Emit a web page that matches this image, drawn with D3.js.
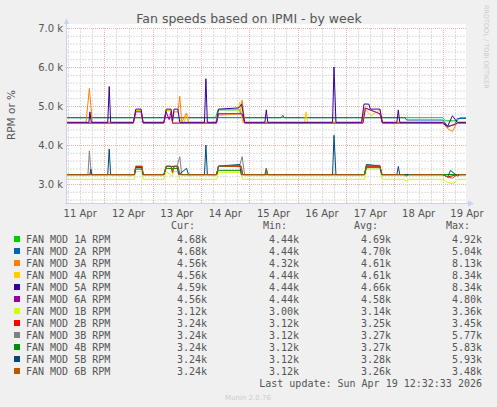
<!DOCTYPE html>
<html><head><meta charset="utf-8">
<script src="https://cdn.jsdelivr.net/npm/d3@7"></script>
<style>body{margin:0;background:#f0f0f0}svg{display:block}</style>
</head><body><svg id="c" width="497" height="407"></svg>
<script>
// time in days since 11 Apr 00:00, values in RPM
const dayLabels = ["11 Apr","12 Apr","13 Apr","14 Apr","15 Apr","16 Apr","17 Apr","18 Apr","19 Apr"];
const yTicks = [3000, 4000, 5000, 6000, 7000];

const fan1A = [[0.23,4700],[3.3,4700],[3.35,4900],[3.8,4900],[3.85,4700],[8.0,4700],[8.05,4620],[8.3,4620],[8.35,4700],[8.48,4700]];
const fan2A = [[0.23,4700],[4.66,4700],[4.69,4760],[4.72,4700],[7.22,4700],[7.25,4640],[8.0,4640],[8.1,4480],[8.25,4520],[8.3,4680],[8.48,4680]];
const fan3A = [[0.23,4580],[0.62,4580],[0.69,5450],[0.75,4580],[1.6,4580],[1.65,4880],[1.76,4880],[1.8,4580],[2.23,4580],[2.28,4880],[2.38,4880],[2.41,4600],[2.44,4850],[2.52,4850],[2.56,5250],[2.6,4580],[2.7,4820],[2.74,4580],[3.3,4580],[3.36,4800],[3.8,4800],[3.85,5150],[3.9,4580],[6.33,4580],[6.38,4950],[6.7,4800],[6.75,4580],[8.0,4580],[8.1,4420],[8.2,4350],[8.3,4580],[8.48,4580]];
const fan4A = [[0.23,4580],[1.6,4580],[1.65,4880],[1.76,4880],[1.8,4580],[2.23,4580],[2.28,4880],[2.38,4880],[2.41,4560],[2.5,4580],[2.56,4650],[2.64,4560],[2.7,4760],[2.75,4580],[3.3,4580],[3.36,4750],[3.75,4800],[3.8,5100],[3.86,4580],[5.14,4580],[5.17,4850],[5.2,4580],[6.35,4580],[6.4,4900],[6.52,4750],[6.7,4900],[6.75,4580],[8.0,4580],[8.1,4450],[8.3,4580],[8.48,4580]];
const fan5A = [[0.23,4580],[0.68,4580],[0.7,4850],[0.73,4580],[1.07,4580],[1.1,5500],[1.13,4580],[1.6,4580],[1.65,4920],[1.76,4920],[1.8,4580],[2.23,4580],[2.28,4920],[2.38,4920],[2.41,4620],[2.44,4920],[2.52,4920],[2.56,4580],[3.07,4580],[3.1,5700],[3.13,4580],[3.32,4580],[3.36,4920],[3.78,4950],[3.84,5050],[3.9,4580],[4.32,4580],[4.35,4900],[4.38,4580],[5.72,4580],[5.75,6000],[5.79,4580],[6.32,4580],[6.37,5050],[6.47,5050],[6.5,4920],[6.7,4920],[6.75,4580],[7.05,4580],[7.08,4900],[7.11,4580],[8.0,4580],[8.1,4480],[8.2,4750],[8.3,4580],[8.48,4580]];
const fan6A = [[0.23,4560],[1.6,4560],[1.65,4850],[1.76,4850],[1.8,4560],[2.23,4560],[2.28,4850],[2.34,4650],[2.38,4850],[2.41,4560],[3.32,4560],[3.36,4800],[3.85,4800],[3.9,4560],[6.35,4560],[6.4,4950],[6.7,4800],[6.75,4560],[8.0,4560],[8.1,4460],[8.3,4560],[8.48,4560]];
const fan1B = [[0.23,3120],[1.62,3120],[1.65,3320],[1.78,3320],[1.8,3120],[2.23,3120],[2.28,3320],[2.4,3200],[2.44,3320],[2.52,3320],[2.56,3120],[3.32,3120],[3.36,3300],[3.83,3300],[3.86,3120],[6.38,3120],[6.42,3380],[6.7,3380],[6.74,3120],[7.2,3120],[7.24,3080],[7.3,3120],[8.0,3120],[8.1,3040],[8.22,3000],[8.3,3120],[8.48,3120]];
const fan2B = [[0.23,3240],[1.62,3240],[1.65,3450],[1.78,3450],[1.8,3240],[2.23,3240],[2.28,3450],[2.38,3450],[2.41,3300],[2.44,3450],[2.52,3450],[2.56,3240],[3.32,3240],[3.36,3450],[3.83,3450],[3.86,3240],[6.38,3240],[6.42,3450],[6.7,3450],[6.74,3240],[8.0,3240],[8.1,3180],[8.3,3240],[8.48,3240]];
const fan3B = [[0.23,3240],[0.66,3240],[0.69,3850],[0.73,3240],[1.62,3240],[1.65,3420],[1.78,3420],[1.8,3240],[2.23,3240],[2.28,3450],[2.5,3450],[2.56,3700],[2.6,3240],[3.32,3240],[3.36,3450],[3.8,3480],[3.85,3700],[3.9,3240],[6.38,3240],[6.42,3480],[6.7,3480],[6.74,3240],[8.48,3240]];
const fan4B = [[0.23,3240],[1.62,3240],[1.65,3380],[1.78,3380],[1.8,3240],[2.23,3240],[2.28,3400],[2.52,3400],[2.56,3240],[3.32,3240],[3.36,3350],[3.83,3350],[3.86,3240],[6.38,3240],[6.42,3420],[6.7,3420],[6.74,3240],[8.48,3240]];
const fan5B = [[0.23,3240],[0.7,3240],[0.72,3380],[0.74,3240],[1.07,3240],[1.1,3900],[1.13,3240],[1.62,3240],[1.65,3420],[1.78,3420],[1.8,3240],[2.23,3240],[2.28,3450],[2.5,3450],[2.54,3240],[2.7,3400],[2.74,3240],[3.07,3240],[3.1,4000],[3.13,3240],[3.32,3240],[3.36,3460],[3.8,3500],[3.83,3240],[4.32,3240],[4.35,3400],[4.38,3240],[5.72,3240],[5.75,4250],[5.79,3240],[6.38,3240],[6.42,3500],[6.7,3460],[6.74,3240],[7.05,3240],[7.08,3450],[7.11,3240],[8.0,3240],[8.1,3180],[8.16,3350],[8.3,3200],[8.35,3240],[8.48,3240]];
const fan6B = [[0.23,3240],[1.62,3240],[1.65,3460],[1.78,3460],[1.8,3240],[2.23,3240],[2.28,3460],[2.38,3460],[2.41,3280],[2.44,3460],[2.52,3460],[2.56,3240],[3.32,3240],[3.36,3460],[3.83,3460],[3.86,3240],[4.34,3240],[4.35,3400],[4.37,3240],[6.38,3240],[6.42,3460],[6.7,3460],[6.74,3240],[7.2,3240],[7.24,3200],[7.3,3240],[8.0,3240],[8.1,3180],[8.2,3150],[8.3,3240],[8.48,3240]];

const names = ["FAN MOD 1A RPM","FAN MOD 2A RPM","FAN MOD 3A RPM","FAN MOD 4A RPM","FAN MOD 5A RPM","FAN MOD 6A RPM","FAN MOD 1B RPM","FAN MOD 2B RPM","FAN MOD 3B RPM","FAN MOD 4B RPM","FAN MOD 5B RPM","FAN MOD 6B RPM"];
const colors = ["#00cc00","#0066b3","#ff8000","#ffcc00","#330099","#990099","#ccff00","#ff0000","#808080","#008f00","#00487d","#b35a00"];
const series = [fan1A,fan2A,fan3A,fan4A,fan5A,fan6A,fan1B,fan2B,fan3B,fan4B,fan5B,fan6B];
const cur = ["4.68k","4.68k","4.56k","4.56k","4.59k","4.56k","3.12k","3.24k","3.24k","3.24k","3.24k","3.24k"];
const mins = ["4.44k","4.44k","4.32k","4.44k","4.44k","4.44k","3.00k","3.12k","3.12k","3.12k","3.12k","3.12k"];
const avgs = ["4.69k","4.70k","4.61k","4.61k","4.66k","4.58k","3.14k","3.25k","3.27k","3.27k","3.28k","3.26k"];
const maxs = ["4.92k","5.04k","8.13k","8.34k","8.34k","4.80k","3.36k","3.45k","5.77k","5.83k","5.93k","3.48k"];

const svg = d3.select("#c");
const L = 67, R = 466, T = 28, B = 203;
const x = d3.scaleLinear().domain([0.227, 8.48]).range([L, R]);
const y = d3.scaleLinear().domain([3000, 7000]).range([184, 28]);

svg.append("rect").attr("x", L).attr("y", T - 4).attr("width", R - L).attr("height", B - T + 4).attr("fill", "#fff");

// minor grid
const g = svg.append("g");
for (let v = 2600; v <= 7000; v += 200) {
  if (v % 1000 === 0) continue;
  g.append("line").attr("x1", L).attr("x2", R).attr("y1", y(v) + .5).attr("y2", y(v) + .5)
    .attr("stroke", "#dcdcdc").attr("stroke-dasharray", "2,1");
}
for (let d = 0; d <= 8.5; d += 0.25) {
  if (x(d) < L || x(d) > R || d % 1 === 0) continue;
  g.append("line").attr("x1", Math.round(x(d)) + .5).attr("x2", Math.round(x(d)) + .5).attr("y1", T).attr("y2", B)
    .attr("stroke", "#dcdcdc").attr("stroke-dasharray", "2,1");
}
// major grid
yTicks.forEach(v => g.append("line").attr("x1", L).attr("x2", R).attr("y1", y(v) + .5).attr("y2", y(v) + .5)
  .attr("stroke", "#ebb0b0").attr("stroke-dasharray", "1,1"));
d3.range(1, 9).forEach(d => g.append("line").attr("x1", Math.round(x(d)) + .5).attr("x2", Math.round(x(d)) + .5)
  .attr("y1", T).attr("y2", B).attr("stroke", "#ebb0b0").attr("stroke-dasharray", "1,1"));

// lines
const line = d3.line().x(d => x(d[0])).y(d => y(d[1]));
series.forEach((s, i) => svg.append("path").attr("d", line(s)).attr("fill", "none")
  .attr("stroke", colors[i]).attr("stroke-width", 1));

// axes frame
svg.append("line").attr("x1", L - .5).attr("x2", L - .5).attr("y1", B).attr("y2", T - 6).attr("stroke", "#c9d0f0");
svg.append("line").attr("x1", L - 2).attr("x2", R + 4).attr("y1", B + .5).attr("y2", B + .5).attr("stroke", "#c9d0f0");
svg.append("path").attr("d", `M${L - 3},${T - 4}L${L - .5},${T - 10}L${L + 2},${T - 4}Z`).attr("fill", "#c9d0f0");
svg.append("path").attr("d", `M${R + 2},${B - 2.5}L${R + 8},${B + .5}L${R + 2},${B + 3.5}Z`).attr("fill", "#c9d0f0");

const font = "DejaVu Sans, sans-serif";
const tc = "#555";
yTicks.forEach(v => svg.append("text").attr("x", L - 4).attr("y", y(v) + 4).attr("text-anchor", "end")
  .attr("font-family", font).attr("font-size", 10).attr("fill", tc).text((v / 1000).toFixed(1) + " k"));
dayLabels.forEach((t, i) => svg.append("text").attr("x", x(i + 0.5)).attr("y", B + 14).attr("text-anchor", "middle")
  .attr("font-family", font).attr("font-size", 10).attr("fill", tc).text(t));

svg.append("text").attr("x", 249).attr("y", 23).attr("text-anchor", "middle").attr("font-family", font)
  .attr("font-size", 12.5).attr("fill", "#555").text("Fan speeds based on IPMI - by week");
svg.append("text").attr("transform", "translate(15,115) rotate(-90)").attr("text-anchor", "middle")
  .attr("font-family", font).attr("font-size", 10.5).attr("fill", tc).text("RPM or %");
svg.append("text").attr("transform", "translate(484,5) rotate(90)").attr("font-family", font)
  .attr("font-size", 6.5).attr("fill", "#ccc").text("RRDTOOL / TOBI OETIKER");

// legend
const mono = "DejaVu Sans Mono, monospace";
const colX = [195, 287, 378, 470], valX = [207, 299, 391, 482];
["Cur:", "Min:", "Avg:", "Max:"].forEach((h, i) => svg.append("text").attr("x", colX[i]).attr("y", 229)
  .attr("text-anchor", "end").attr("font-family", mono).attr("font-size", 10).attr("fill", tc).text(h));
names.forEach((n, i) => {
  const yy = 243 + i * 12;
  svg.append("rect").attr("x", 14).attr("y", yy - 7).attr("width", 6).attr("height", 6).attr("fill", colors[i]);
  svg.append("text").attr("x", 26).attr("y", yy).attr("font-family", mono).attr("font-size", 10).attr("fill", tc).text(n);
  [cur, mins, avgs, maxs].forEach((arr, j) => svg.append("text").attr("x", valX[j]).attr("y", yy)
    .attr("text-anchor", "end").attr("font-family", mono).attr("font-size", 10).attr("fill", tc).text(arr[i]));
});
svg.append("text").attr("x", 482).attr("y", 387).attr("text-anchor", "end").attr("font-family", mono)
  .attr("font-size", 10).attr("fill", tc).text("Last update: Sun Apr 19 12:32:33 2026");
svg.append("text").attr("x", 248).attr("y", 400).attr("text-anchor", "middle").attr("font-family", font)
  .attr("font-size", 7).attr("fill", "#ccc").text("Munin 2.0.76");
</script></body></html>
